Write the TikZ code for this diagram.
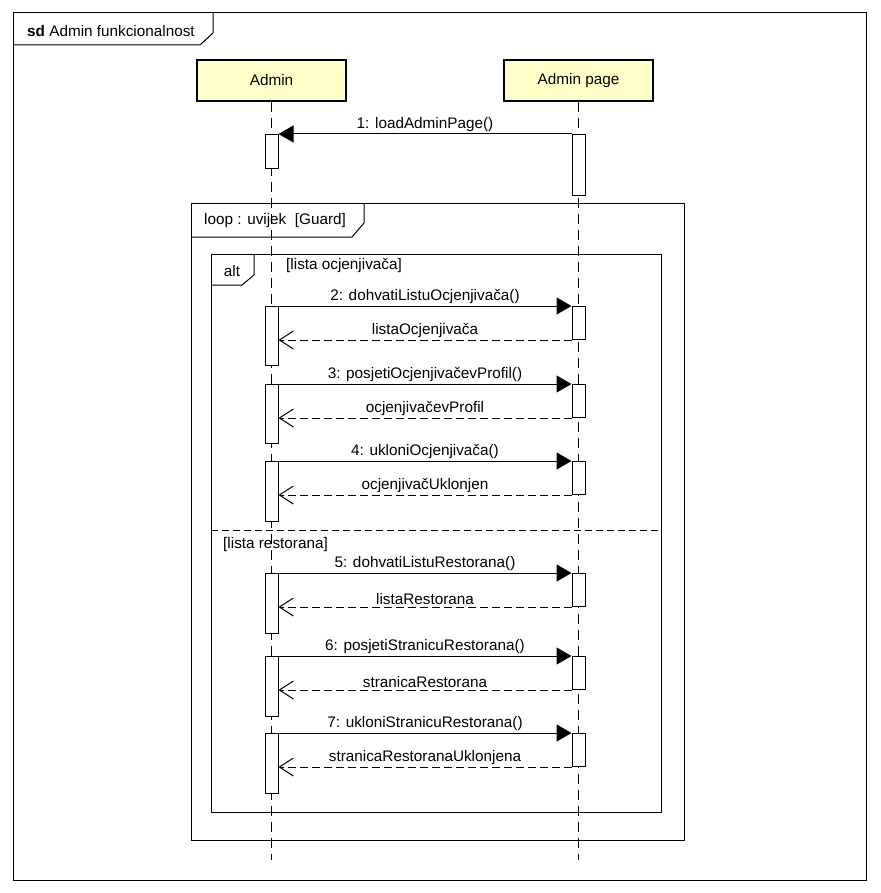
\documentclass[tikz,border=0pt]{standalone}
\usepackage{fontspec}
\setmainfont{Liberation Sans}
\usetikzlibrary{arrows.meta}
\definecolor{partfill}{HTML}{FFFFC8}
\begin{document}
\begin{tikzpicture}[x=1pt,y=-1pt,
  font=\fontsize{15.3}{17}\selectfont,
  frame/.style={draw=black, line width=1pt},
  part/.style={draw=black, line width=2pt, fill=partfill,
    minimum width=149pt, minimum height=41pt, inner sep=0pt},
  act/.style={draw=black, fill=white, line width=1pt,
    minimum width=13pt, inner sep=0pt, anchor=north},
  lifeline/.style={draw=black, line width=1pt, dash pattern=on 10pt off 6pt},
  sync/.style={draw=black, line width=1pt, -{Triangle[length=15pt,width=17pt]}},
  ret/.style={draw=black, line width=1pt, dash pattern=on 8pt off 4pt,
    -{Straight Barb[length=14pt,width=18pt,line width=1pt]}},
  msg/.style={midway, above, inner sep=2pt},
  lbl/.style={inner sep=0pt, anchor=west}
]
\useasboundingbox (0,0) rectangle (880,893);
\fill[white] (0,0) rectangle (880,893);

% diagram frame
\draw[frame] (13,13) rectangle (866,880);
\draw[frame] (13,45) -- (200,45) -- (213,33) -- (213,13);
\node[lbl] (sdlabel) at (27,31) {\textbf{sd} Admin funkcionalnost};

% participants and lifelines
\node[part] (admin) at (271.5,80.5) {Admin};
\node[part] (page) at (578.5,80.5) {Admin page};
\coordinate (adminEnd) at (271.5,860);
\coordinate (pageEnd) at (578.5,860);
\draw[lifeline] (admin.south) -- (adminEnd);
\draw[lifeline] (page.south) -- (pageEnd);

% loop fragment
\draw[frame] (191,204) rectangle (684,840);
\draw[frame] (191,237) -- (352,237) -- (364,223) -- (364,204);
\node[lbl] (looplabel) at (204,221) {loop : uvijek\ \ [Guard]};

% alt fragment
\draw[frame] (211,254) rectangle (661,812);
\draw[frame] (211,285) -- (242,285) -- (254,275) -- (254,254);
\node[inner sep=0pt] (altlabel) at (232,271) {alt};
\node[lbl] (guardA) at (286,266) {[lista ocjenjivača]};
\draw[draw=black, line width=1pt, dash pattern=on 7pt off 4pt] (211,530) -- (661,530);
\node[lbl] (guardB) at (223,545) {[lista restorana]};

% activations
\node[act, minimum height=34pt] (a1) at (271.5,134) {};
\node[act, minimum height=61pt] (p1) at (578.5,134) {};
\node[act, minimum height=59pt] (a2) at (271.5,306) {};
\node[act, minimum height=33pt] (p2) at (578.5,306) {};
\node[act, minimum height=59pt] (a3) at (271.5,384) {};
\node[act, minimum height=33pt] (p3) at (578.5,384) {};
\node[act, minimum height=60pt] (a4) at (271.5,461) {};
\node[act, minimum height=33pt] (p4) at (578.5,461) {};
\node[act, minimum height=60pt] (a5) at (271.5,573) {};
\node[act, minimum height=33pt] (p5) at (578.5,573) {};
\node[act, minimum height=60pt] (a6) at (271.5,656) {};
\node[act, minimum height=33pt] (p6) at (578.5,656) {};
\node[act, minimum height=60pt] (a7) at (271.5,733) {};
\node[act, minimum height=33pt] (p7) at (578.5,733) {};

% messages
\draw[sync] (p1.north west) -- (a1.north east) node[msg] {1: loadAdminPage()};

\draw[sync] (a2.north east) -- (p2.north west) node[msg] {2: dohvatiListuOcjenjivača()};
\draw[ret] (p2.south west) -- (a2.east |- p2.south west) node[msg] {listaOcjenjivača};

\draw[sync] (a3.north east) -- (p3.north west) node[msg] {3: posjetiOcjenjivačevProfil()};
\draw[ret] (p3.south west) -- (a3.east |- p3.south west) node[msg] {ocjenjivačevProfil};

\draw[sync] (a4.north east) -- (p4.north west) node[msg] {4: ukloniOcjenjivača()};
\draw[ret] (p4.south west) -- (a4.east |- p4.south west) node[msg] {ocjenjivačUklonjen};

\draw[sync] (a5.north east) -- (p5.north west) node[msg] {5: dohvatiListuRestorana()};
\draw[ret] (p5.south west) -- (a5.east |- p5.south west) node[msg] {listaRestorana};

\draw[sync] (a6.north east) -- (p6.north west) node[msg] {6: posjetiStranicuRestorana()};
\draw[ret] (p6.south west) -- (a6.east |- p6.south west) node[msg] {stranicaRestorana};

\draw[sync] (a7.north east) -- (p7.north west) node[msg] {7: ukloniStranicuRestorana()};
\draw[ret] (p7.south west) -- (a7.east |- p7.south west) node[msg] {stranicaRestoranaUklonjena};
\end{tikzpicture}
\end{document}
